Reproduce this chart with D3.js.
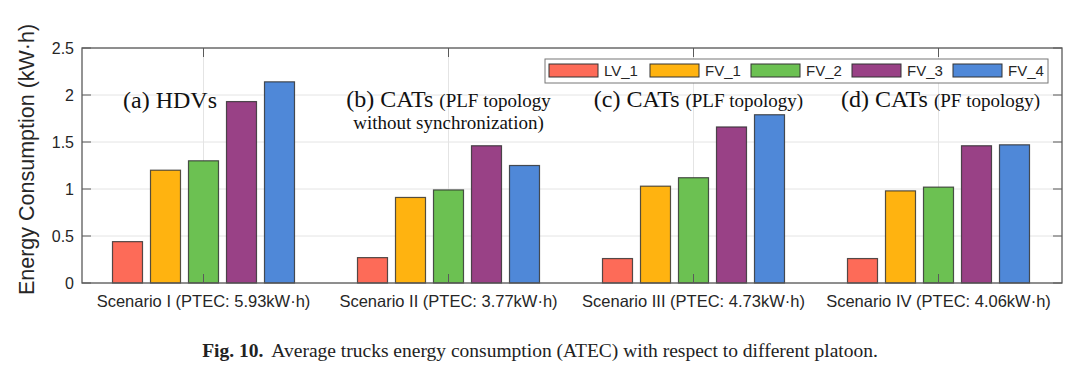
<!DOCTYPE html>
<html>
<head>
<meta charset="utf-8">
<script src="https://cdn.jsdelivr.net/npm/d3@7"></script>
<style>
  body { margin: 0; background: #fff; }
  svg { display: block; }
</style>
</head>
<body>
<div id="chart"></div>
<script>
const widthValue = 1080;
const heightValue = 387;
const margin = {top: 48, right: 18, bottom: 105, left: 82};

// data
const scenarios = ["Scenario I (PTEC: 5.93kW\u00b7h)", "Scenario II (PTEC: 3.77kW\u00b7h)",
                   "Scenario III (PTEC: 4.73kW\u00b7h)", "Scenario IV (PTEC: 4.06kW\u00b7h)"];
const vehicles = ["LV_1", "FV_1", "FV_2", "FV_3", "FV_4"];
const colors = ["#fd6b58", "#ffb310", "#6cc152", "#994186", "#4f88d8"];
const LV_1 = [0.44, 0.27, 0.26, 0.26];
const FV_1 = [1.20, 0.91, 1.03, 0.98];
const FV_2 = [1.30, 0.99, 1.12, 1.02];
const FV_3 = [1.93, 1.46, 1.66, 1.46];
const FV_4 = [2.14, 1.25, 1.79, 1.47];
const yTicks = [0, 0.5, 1, 1.5, 2, 2.5];
const seriesValues = [LV_1, FV_1, FV_2, FV_3, FV_4];

const svg = d3.select("#chart")
  .append("svg")
  .attr("width", widthValue)
  .attr("height", heightValue);

const x0 = margin.left, x1 = widthValue - margin.right;
const yTop = margin.top, yBot = heightValue - margin.bottom + 1;

// X Scale (groups)
var x = d3.scaleBand()
    .domain(scenarios)
    .range([x0 - 1, x1 - 1])
    .padding(0);
// inner scale for the five bars of a group
var xi = d3.scaleBand()
    .domain(vehicles)
    .range([-91, 91])
    .paddingInner(8 / 38);
// Y Scale
var y = d3.scaleLinear()
    .domain([0, 2.5])
    .range([yBot, yTop]);

// grid
svg.append("g")
  .selectAll("line")
  .data(yTicks)
  .join("line")
  .attr("x1", x0).attr("x2", x1)
  .attr("y1", d => y(d)).attr("y2", d => y(d))
  .style("stroke", "#e4e4e4").style("stroke-width", 1);
svg.append("g")
  .selectAll("line")
  .data(scenarios)
  .join("line")
  .attr("x1", d => x(d) + x.bandwidth() / 2).attr("x2", d => x(d) + x.bandwidth() / 2)
  .attr("y1", yTop).attr("y2", yBot)
  .style("stroke", "#e4e4e4").style("stroke-width", 1);

// bars
const rows = [];
scenarios.forEach((s, i) => {
  vehicles.forEach((v, j) => rows.push({s: s, v: v, c: colors[j], val: seriesValues[j][i]}));
});
svg.append("g")
  .selectAll("rect")
  .data(rows)
  .join("rect")
  .attr("x", d => x(d.s) + x.bandwidth() / 2 + xi(d.v))
  .attr("width", xi.bandwidth())
  .attr("y", d => y(d.val))
  .attr("height", d => y(0) - y(d.val))
  .style("fill", d => d.c)
  .style("stroke", "#2a2a2a")
  .style("stroke-opacity", 0.8)
  .style("stroke-width", 1.2);

// axes box
const axisColor = "#5a5a5a";
svg.append("rect")
  .attr("x", x0).attr("y", yTop)
  .attr("width", x1 - x0).attr("height", yBot - yTop)
  .style("fill", "none").style("stroke", axisColor).style("stroke-width", 1.3);

// y ticks (inside, both sides)
const yt = svg.append("g");
yTicks.forEach(t => {
  yt.append("line").attr("x1", x0).attr("x2", x0 + 9).attr("y1", y(t)).attr("y2", y(t))
    .style("stroke", axisColor);
  yt.append("line").attr("x1", x1).attr("x2", x1 - 9).attr("y1", y(t)).attr("y2", y(t))
    .style("stroke", axisColor);
  yt.append("text")
    .attr("x", x0 - 8).attr("y", y(t)).attr("dy", "0.36em")
    .attr("text-anchor", "end")
    .style("font-family", "Liberation Sans, Arial, sans-serif")
    .style("font-size", "16px").style("fill", "#262626")
    .text(t);
});

// x ticks + labels
const xt = svg.append("g");
scenarios.forEach(s => {
  const cx = x(s) + x.bandwidth() / 2;
  xt.append("line").attr("x1", cx).attr("x2", cx).attr("y1", yBot).attr("y2", yBot - 9)
    .style("stroke", axisColor);
  xt.append("line").attr("x1", cx).attr("x2", cx).attr("y1", yTop).attr("y2", yTop + 9)
    .style("stroke", axisColor);
  xt.append("text")
    .attr("x", cx).attr("y", yBot + 24)
    .attr("text-anchor", "middle")
    .style("font-family", "Liberation Sans, Arial, sans-serif")
    .style("font-size", "16.5px").style("fill", "#262626")
    .text(s);
});

// y label
svg.append("text")
  .attr("transform", `translate(34,${(yTop + yBot) / 2 - 6}) rotate(-90)`)
  .attr("text-anchor", "middle")
  .style("font-family", "Liberation Sans, Arial, sans-serif")
  .style("font-size", "21.5px").style("fill", "#262626")
  .text("Energy Consumption (kW\u00b7h)");

// panel notes
function note(cx, anchor, val, big, small) {
  const t = svg.append("text")
    .attr("x", cx).attr("y", y(val))
    .attr("text-anchor", anchor)
    .style("font-family", "Liberation Serif, Times New Roman, serif")
    .style("fill", "#111");
  t.append("tspan").style("font-size", "24px").text(big);
  if (small) t.append("tspan").style("font-size", "19px").text(small);
  return t;
}
note(x(scenarios[0]) + 42, "start", 1.86, "(a) HDVs");
note(x(scenarios[1]) + x.bandwidth() / 2, "middle", 1.87, "(b) CATs ", "(PLF topology");
svg.append("text")
  .attr("x", x(scenarios[1]) + x.bandwidth() / 2).attr("y", y(1.64))
  .attr("text-anchor", "middle")
  .style("font-family", "Liberation Serif, Times New Roman, serif")
  .style("font-size", "19px").style("fill", "#111")
  .text("without synchronization)");
note(x(scenarios[2]) + x.bandwidth() / 2 + 5, "middle", 1.87, "(c) CATs ", "(PLF topology)");
note(x(scenarios[3]) + x.bandwidth() / 2 + 2, "middle", 1.87, "(d) CATs ", "(PF topology)");

// legend
const lg = svg.append("g").attr("transform", "translate(545,59)");
lg.append("rect").attr("width", 503).attr("height", 24)
  .style("fill", "#fff").style("stroke", "#777").style("stroke-width", 1);
vehicles.forEach((v, j) => {
  const g = lg.append("g").attr("transform", `translate(${4 + j * 101},5)`);
  g.append("rect").attr("width", 49).attr("height", 13)
    .style("fill", colors[j]).style("stroke", "#333").style("stroke-width", 1);
  g.append("text").attr("x", 55).attr("y", 7).attr("dy", "0.36em")
    .style("font-family", "Liberation Sans, Arial, sans-serif")
    .style("font-size", "15px").style("fill", "#262626")
    .text(v);
});

// caption
const cap = svg.append("text")
  .attr("x", widthValue / 2).attr("y", 357)
  .attr("text-anchor", "middle")
  .style("font-family", "Liberation Serif, Times New Roman, serif")
  .style("font-size", "19.5px").style("fill", "#222");
cap.append("tspan").style("font-weight", "bold").text("Fig. 10.");
cap.append("tspan").attr("dx", 8).text("Average trucks energy consumption (ATEC) with respect to different platoon.");
</script>
</body>
</html>
